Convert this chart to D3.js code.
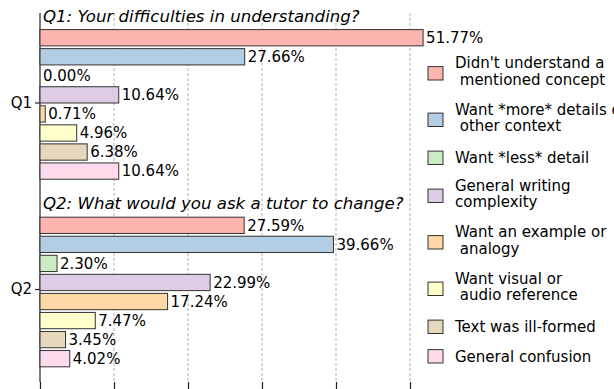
<!DOCTYPE html>
<html>
<head>
<meta charset="utf-8">
<script src="https://cdn.jsdelivr.net/npm/d3@7"></script>
<style>
  html, body { margin: 0; padding: 0; background: #fff; overflow: hidden; }
  svg { display: block; font-family: "DejaVu Sans", sans-serif; }
</style>
</head>
<body>
<svg id="chart" width="614" height="389"></svg>
<script>
// ---- data ----
const questions = ["Q1", "Q2"];
const questionTitles = [
  "Q1: Your difficulties in understanding?",
  "Q2: What would you ask a tutor to change?"
];
const categories = [
  "Didn't understand a\n mentioned concept",
  "Want *more* details or\n other context",
  "Want *less* detail",
  "General writing\ncomplexity",
  "Want an example or\n analogy",
  "Want visual or\n audio reference",
  "Text was ill-formed",
  "General confusion"
];
const q1Values = [51.77, 27.66, 0.00, 10.64, 0.71, 4.96, 6.38, 10.64];
const q2Values = [27.59, 39.66, 2.30, 22.99, 17.24, 7.47, 3.45, 4.02];
const xTicks = [0, 10, 20, 30, 40, 50];
const colors = ["#fbb4ae", "#b3cde3", "#ccebc5", "#decbe4", "#fed9a6", "#ffffcc", "#e5d8bd", "#fddaec"];

const seriesByQuestion = [q1Values, q2Values];

// ---- layout ----
const svg = d3.select("#chart");
const plotLeft = 40, plotTop = 13, plotBottom = 382;
const fontSize = 15;
const titleSize = 16.6;

const x = d3.scaleLinear().domain([0, 50]).range([plotLeft, 410]);
const yGroup = d3.scaleLinear().domain([0, 1]).range([104.4, 292]);
const step = 19.05;
const inner = d3.scaleBand()
  .domain(d3.range(categories.length))
  .range([-4 * step, 4 * step])
  .paddingInner(0.145)
  .paddingOuter(0.0725);

// gridlines
svg.append("g")
  .selectAll("line")
  .data(xTicks.filter(t => t > 0))
  .join("line")
  .attr("x1", d => x(d)).attr("x2", d => x(d))
  .attr("y1", plotTop).attr("y2", plotBottom)
  .attr("stroke", "#b0b0b0")
  .attr("stroke-width", 1)
  .attr("stroke-dasharray", "3,2");

// x axis (ticks only, no labels)
const xAxis = svg.append("g")
  .attr("transform", `translate(0,${plotBottom})`)
  .call(d3.axisBottom(x).tickValues(xTicks).tickSize(8).tickFormat(""));
xAxis.select(".domain").remove();
xAxis.selectAll(".tick line").attr("stroke", "#222").attr("stroke-width", 1.2);

// y axis
const yAxis = svg.append("g")
  .attr("transform", `translate(${plotLeft},0)`)
  .call(d3.axisLeft(yGroup).tickValues([0, 1]).tickFormat((d, i) => questions[i]).tickSize(5).tickPadding(3));
yAxis.select(".domain").remove();
yAxis.selectAll(".tick line").attr("stroke", "#222").attr("stroke-width", 1.2);
yAxis.selectAll(".tick text")
  .attr("font-size", fontSize)
  .attr("font-family", "DejaVu Sans")
  .attr("fill", "#000")
  .attr("dy", "0.32em");
yAxis.selectAll(".tick").attr("transform", (d, i) => `translate(0,${i === 0 ? 103 : 289.5})`);

// left spine
svg.append("line")
  .attr("x1", plotLeft).attr("x2", plotLeft)
  .attr("y1", plotTop).attr("y2", plotBottom)
  .attr("stroke", "#222").attr("stroke-width", 1.2);

// bars
seriesByQuestion.forEach((vals, qi) => {
  const g = svg.append("g");
  const c = yGroup(qi);
  g.selectAll("rect")
    .data(vals)
    .join("rect")
    .attr("x", x(0))
    .attr("y", (d, i) => c + inner(i))
    .attr("width", d => x(d) - x(0))
    .attr("height", inner.bandwidth())
    .attr("fill", (d, i) => colors[i])
    .attr("stroke", d => d > 0 ? "#333" : "none")
    .attr("stroke-width", 1);
  g.selectAll("text")
    .data(vals)
    .join("text")
    .attr("x", d => x(d) + 3)
    .attr("y", (d, i) => c + inner(i) + inner.bandwidth() / 2)
    .attr("dy", "0.36em")
    .attr("font-size", fontSize)
    .attr("fill", "#000")
    .text(d => d.toFixed(2) + "%");
  // title
  svg.append("text")
    .attr("x", 43)
    .attr("y", c + inner(0) - 8)
    .attr("font-size", titleSize)
    .attr("font-style", "italic")
    .attr("fill", "#000")
    .text(questionTitles[qi]);
});

// legend
const lineH = 17, gap = 12.5, lineSpacing = 16.4;
const leg = svg.append("g");
let cy = 73.3;
categories.forEach((lab, i) => {
  const lines = lab.split("\n");
  const n = lines.length;
  if (i > 0) {
    const prevN = categories[i - 1].split("\n").length;
    cy += prevN * lineH / 2 + gap + n * lineH / 2;
  }
  leg.append("rect")
    .attr("x", 428).attr("y", cy - 6.7)
    .attr("width", 15).attr("height", 13.4)
    .attr("fill", colors[i])
    .attr("stroke", "#333").attr("stroke-width", 1);
  const firstBase = cy + 5.3 - (n - 1) * 10.3;
  const t = leg.append("text")
    .attr("font-size", fontSize)
    .attr("fill", "#000")
    .attr("xml:space", "preserve")
    .style("white-space", "pre");
  lines.forEach((ln, k) => {
    t.append("tspan")
      .attr("x", 455)
      .attr("y", firstBase + k * lineSpacing)
      .text(ln);
  });
});
</script>
</body>
</html>
